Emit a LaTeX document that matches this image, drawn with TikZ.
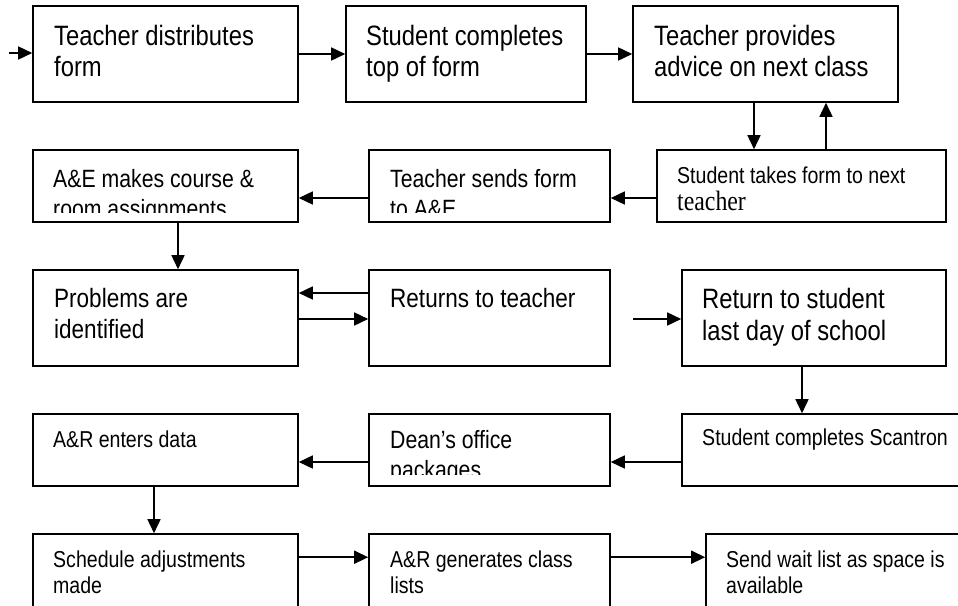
\documentclass[tikz,border=0pt]{standalone}
\usepackage{fontspec}
\setmainfont{Liberation Sans}
\newfontfamily\narrowsans[FakeStretch=0.85]{Liberation Sans}
\newfontfamily\narrowserif[FakeStretch=0.85]{Liberation Serif}
\usetikzlibrary{arrows.meta}
\newcommand{\fsz}[2]{\fontsize{#1}{#2}\selectfont}
\newcommand{\lines}[1]{\begin{tabular}[t]{@{}l@{}}#1\end{tabular}}

\tikzset{
  box/.style={draw=black, line width=1.6pt, fill=white, rectangle, inner sep=0pt},
  txt/.style={anchor=base west, inner sep=0pt, font=\narrowsans},
  arr/.style={line width=1.6pt, -{Triangle[length=14pt,width=13pt]}},
  big/.style={font=\narrowsans\fsz{28}{32}},
  mid/.style={font=\narrowsans\fsz{26.5}{31}},
  med/.style={font=\narrowsans\fsz{25}{30}},
  small/.style={font=\narrowsans\fsz{23}{26}}
}

\begin{document}
\begin{tikzpicture}[x=1pt, y=-1pt]
  \clip (0,0) rectangle (958,605);
  \fill[white] (0,0) rectangle (958,605);

  % process boxes
  \node[box, minimum width=265pt, minimum height=96pt] (b1) at (165.5,54) {};
  \node[box, minimum width=240pt, minimum height=96pt] (b2) at (466,54) {};
  \node[box, minimum width=265pt, minimum height=96pt] (b3) at (765.5,54) {};

  \node[box, minimum width=265pt, minimum height=72pt] (b4) at (165.5,186) {};
  \node[box, minimum width=241pt, minimum height=72pt] (b5) at (489.5,186) {};
  \node[box, minimum width=289pt, minimum height=72pt] (b6) at (801.5,186) {};

  \node[box, minimum width=265pt, minimum height=96pt] (b7) at (165.5,318) {};
  \node[box, minimum width=241pt, minimum height=96pt] (b8) at (489.5,318) {};
  \node[box, minimum width=264pt, minimum height=96pt] (b9) at (814,318) {};

  \node[box, minimum width=265pt, minimum height=72pt] (b10) at (165.5,450) {};
  \node[box, minimum width=241pt, minimum height=72pt] (b11) at (489.5,450) {};
  \node[box, minimum width=284pt, minimum height=72pt] (b12) at (824,450) {};

  \node[box, minimum width=265pt, minimum height=78pt] (b13) at (165.5,573) {};
  \node[box, minimum width=241pt, minimum height=78pt] (b14) at (489.5,573) {};
  \node[box, minimum width=260pt, minimum height=78pt] (b15) at (836,573) {};

  % box texts
  \node[txt, big] (t1) at (54,45) {\lines{Teacher distributes\\form}};
  \node[txt, big] (t2) at (366,45) {\lines{Student completes\\top of form}};
  \node[txt, big] (t3) at (654,45) {\lines{Teacher provides\\advice on next class}};

  \begin{scope}
    \clip (b4.north west) rectangle ([yshift=10pt]b4.south east);
    \node[txt, med] (t4) at (53,187) {\lines{A\&E makes course \&\\room assignments}};
  \end{scope}
  \begin{scope}
    \clip (b5.north west) rectangle ([yshift=10pt]b5.south east);
    \node[txt, med] (t5) at (390,187) {\lines{Teacher sends form\\to A\&E}};
  \end{scope}
  \node[txt, small] (t6) at (677,183) {\lines{Student takes form to next\\[0pt]{\narrowserif\fsz{28}{26}teacher}}};

  \node[txt, mid] (t7) at (54,307) {\lines{Problems are\\identified}};
  \node[txt, mid] (t8) at (390,307) {\lines{Returns to teacher}};
  \node[txt, big] (t9) at (702,308) {\lines{Return to student\\last day of school}};

  \node[txt, small] (t10) at (53,447) {\lines{A\&R enters data}};
  \begin{scope}
    \clip (b11.north west) rectangle ([yshift=12pt]b11.south east);
    \node[txt, med] (t11) at (390,448) {\lines{Dean’s office\\packages}};
  \end{scope}
  \node[txt, small] (t12) at (702,445) {\lines{Student completes Scantron}};

  \node[txt, small] (t13) at (53,567) {\lines{Schedule adjustments\\made}};
  \node[txt, small] (t14) at (390,567) {\lines{A\&R generates class\\lists}};
  \node[txt, small] (t15) at (726,567) {\lines{Send wait list as space is\\available}};

  % connector anchor points
  \coordinate (in0) at (9,53);
  \coordinate (in1) at (633,319);
  \coordinate (d36) at ([xshift=-11.5pt]b3.south);
  \coordinate (u63) at ([xshift=60.5pt]b3.south);
  \coordinate (l65) at ([yshift=-12pt]b6.west);
  \coordinate (l54) at ([yshift=-12pt]b5.west);
  \coordinate (d47) at ([xshift=12.5pt]b4.south);
  \coordinate (l87) at ([yshift=25pt]b8.west);
  \coordinate (r78) at ([yshift=-1pt]b7.east);
  \coordinate (d912) at ([xshift=-12pt]b9.south);
  \coordinate (l1211) at ([yshift=-12pt]b12.west);
  \coordinate (l1110) at ([yshift=-12pt]b11.west);
  \coordinate (d1013) at ([xshift=-11.5pt]b10.south);
  \coordinate (r1314) at ([yshift=-24pt]b13.north east);
  \coordinate (r1415) at ([yshift=-24pt]b14.north east);

  % connectors
  \draw[arr] (in0) -- (in0 -| b1.west);
  \draw[arr] (b1.east) -- (b2.west);
  \draw[arr] (b2.east) -- (b3.west);
  \draw[arr] (d36) -- (d36 |- b6.north);
  \draw[arr] (u63 |- b6.north) -- (u63);
  \draw[arr] (l65) -- (l65 -| b5.east);
  \draw[arr] (l54) -- (l54 -| b4.east);
  \draw[arr] (d47) -- (d47 |- b7.north);
  \draw[arr] (l87) -- (l87 -| b7.east);
  \draw[arr] (r78) -- (r78 -| b8.west);
  \draw[arr] (in1) -- (in1 -| b9.west);
  \draw[arr] (d912) -- (d912 |- b12.north);
  \draw[arr] (l1211) -- (l1211 -| b11.east);
  \draw[arr] (l1110) -- (l1110 -| b10.east);
  \draw[arr] (d1013) -- (d1013 |- b13.north);
  \draw[arr] (r1314) -- (r1314 -| b14.west);
  \draw[arr] (r1415) -- (r1415 -| b15.west);
\end{tikzpicture}
\end{document}
